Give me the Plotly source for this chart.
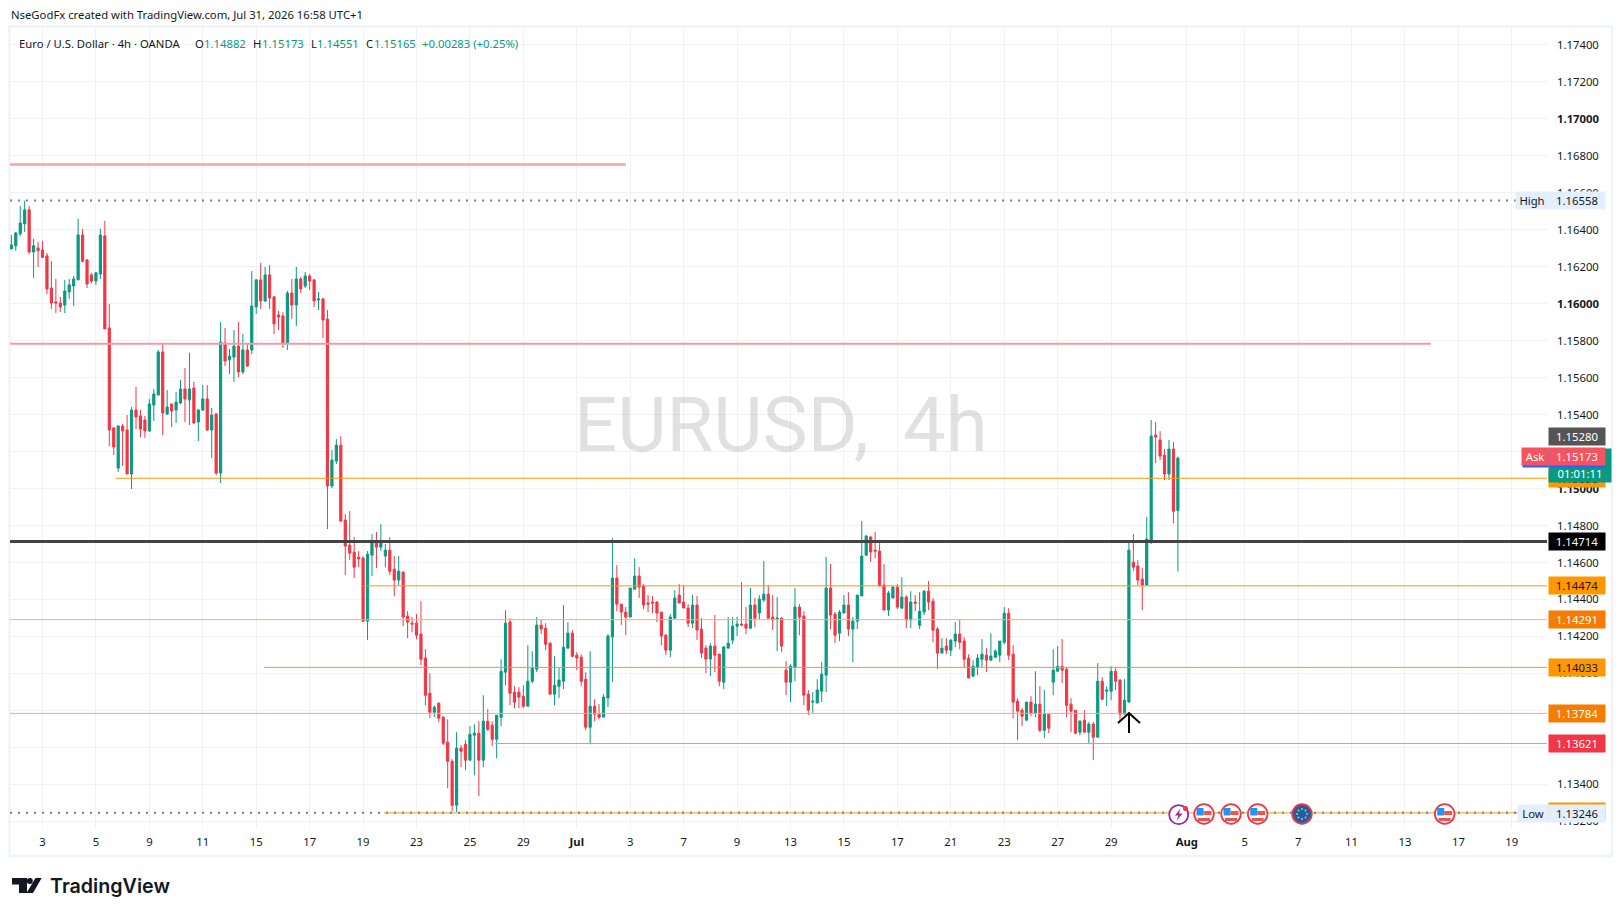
import plotly.graph_objects as go

# 4h candles
opens = [
    1.16296, 1.16313, 1.16378, 1.16432, 1.16508, 1.16280, 1.16302, 1.16291, 1.16259, 1.16085,
    1.16010, 1.16004, 1.15993, 1.16064, 1.16096, 1.16129, 1.16372, 1.16237, 1.16156, 1.16123,
    1.16161, 1.16367, 1.15869, 1.15328, 1.15111, 1.15339, 1.15317, 1.15079, 1.15425, 1.15393,
    1.15371, 1.15312, 1.15452, 1.15506, 1.15739, 1.15404, 1.15458, 1.15425, 1.15463, 1.15539,
    1.15479, 1.15544, 1.15360, 1.15425, 1.15485, 1.15317, 1.15404, 1.15084, 1.15788, 1.15696,
    1.15712, 1.15771, 1.15631, 1.15750, 1.15750, 1.15983, 1.16129, 1.16015, 1.16156, 1.16037,
    1.15939, 1.15934, 1.15788, 1.16058, 1.15993, 1.16134, 1.16096, 1.16150, 1.16129, 1.16020,
    1.16026, 1.15917, 1.15014, 1.15149, 1.15235, 1.14830, 1.14694, 1.14656, 1.14629, 1.14624,
    1.14283, 1.14640, 1.14716, 1.14683, 1.14635, 1.14667, 1.14564, 1.14505, 1.14548, 1.14310,
    1.14272, 1.14272, 1.14213, 1.14083, 1.13893, 1.13790, 1.13839, 1.13763, 1.13628, 1.13525,
    1.13287, 1.13596, 1.13617, 1.13531, 1.13666, 1.13677, 1.13531, 1.13742, 1.13720, 1.13644,
    1.13763, 1.14007, 1.14278, 1.13899, 1.13899, 1.13877, 1.13823, 1.13958, 1.14023, 1.14261,
    1.14245, 1.14164, 1.13888, 1.13931, 1.13958, 1.14137, 1.14218, 1.14099, 1.14088, 1.13969,
    1.13709, 1.13823, 1.13780, 1.13764, 1.13867, 1.14197, 1.14516, 1.14375, 1.14332, 1.14305,
    1.14456, 1.14527, 1.14473, 1.14381, 1.14386, 1.14386, 1.14332, 1.14207, 1.14126, 1.14299,
    1.14424, 1.14386, 1.14354, 1.14272, 1.14370, 1.14240, 1.14137, 1.14078, 1.14148, 1.14105,
    1.13953, 1.14137, 1.14180, 1.14256, 1.14267, 1.14267, 1.14245, 1.14370, 1.14327, 1.14397,
    1.14429, 1.14305, 1.14294, 1.14299, 1.14018, 1.13953, 1.14034, 1.14359, 1.14310, 1.13888,
    1.13845, 1.13840, 1.13904, 1.13991, 1.14462, 1.14321, 1.14218, 1.14327, 1.14370, 1.14240,
    1.14283, 1.14419, 1.14640, 1.14738, 1.14667, 1.14662, 1.14478, 1.14343, 1.14408, 1.14467,
    1.14353, 1.14413, 1.14289, 1.14386, 1.14261, 1.14332, 1.14445, 1.14391, 1.14240, 1.14110,
    1.14148, 1.14126, 1.14175, 1.14213, 1.14175, 1.14083, 1.13985, 1.14034, 1.14077, 1.14099,
    1.14072, 1.14088, 1.14099, 1.14169, 1.14326, 1.14104, 1.13850, 1.13801, 1.13747, 1.13845,
    1.13785, 1.13834, 1.13693, 1.13780, 1.13953, 1.14012, 1.14039, 1.14023, 1.13834, 1.13801,
    1.13682, 1.13747, 1.13682, 1.13726, 1.13655, 1.13958, 1.13904, 1.13904, 1.14012, 1.13964,
    1.13780, 1.13845, 1.14602, 1.14581, 1.14510, 1.14478, 1.14721, 1.15290, 1.15263, 1.15181,
    1.15079, 1.15214, 1.14882,
]
highs = [
    1.16372, 1.16388, 1.16529, 1.16558, 1.16529, 1.16351, 1.16334, 1.16340, 1.16275, 1.16231,
    1.16134, 1.16037, 1.16129, 1.16134, 1.16150, 1.16459, 1.16405, 1.16242, 1.16167, 1.16172,
    1.16405, 1.16448, 1.15999, 1.15333, 1.15339, 1.15349, 1.15398, 1.15441, 1.15550, 1.15425,
    1.15393, 1.15485, 1.15539, 1.15750, 1.15782, 1.15533, 1.15458, 1.15523, 1.15587, 1.15652,
    1.15734, 1.15577, 1.15430, 1.15560, 1.15560, 1.15436, 1.15409, 1.15901, 1.15869, 1.15755,
    1.15858, 1.15901, 1.15836, 1.15788, 1.16177, 1.16134, 1.16221, 1.16199, 1.16210, 1.16042,
    1.15961, 1.15955, 1.16069, 1.16134, 1.16199, 1.16145, 1.16172, 1.16161, 1.16134, 1.16064,
    1.16031, 1.15966, 1.15208, 1.15268, 1.15284, 1.14862, 1.14878, 1.14738, 1.14662, 1.14635,
    1.14662, 1.14754, 1.14765, 1.14808, 1.14700, 1.14738, 1.14635, 1.14635, 1.14553, 1.14337,
    1.14305, 1.14321, 1.14391, 1.14131, 1.14001, 1.13828, 1.13844, 1.13769, 1.13752, 1.13536,
    1.13682, 1.13612, 1.13639, 1.13715, 1.13725, 1.13742, 1.13882, 1.13807, 1.13742, 1.13774,
    1.14077, 1.14342, 1.14299, 1.13931, 1.13926, 1.13936, 1.14153, 1.14120, 1.14305, 1.14294,
    1.14272, 1.14169, 1.14093, 1.14029, 1.14370, 1.14278, 1.14234, 1.14115, 1.14104, 1.14007,
    1.14120, 1.13861, 1.13834, 1.13888, 1.14213, 1.14732, 1.14586, 1.14375, 1.14359, 1.14462,
    1.14624, 1.14575, 1.14483, 1.14424, 1.14419, 1.14391, 1.14332, 1.14213, 1.14321, 1.14451,
    1.14483, 1.14478, 1.14375, 1.14424, 1.14419, 1.14299, 1.14153, 1.14164, 1.14316, 1.14105,
    1.14148, 1.14305, 1.14305, 1.14305, 1.14494, 1.14359, 1.14462, 1.14408, 1.14424, 1.14608,
    1.14478, 1.14424, 1.14413, 1.14305, 1.14067, 1.14051, 1.14462, 1.14375, 1.14337, 1.13910,
    1.13899, 1.13969, 1.14061, 1.14630, 1.14592, 1.14332, 1.14343, 1.14424, 1.14440, 1.14305,
    1.14424, 1.14824, 1.14749, 1.14743, 1.14765, 1.14705, 1.14592, 1.14446, 1.14473, 1.14483,
    1.14521, 1.14424, 1.14445, 1.14424, 1.14440, 1.14451, 1.14500, 1.14407, 1.14251, 1.14191,
    1.14191, 1.14186, 1.14278, 1.14289, 1.14196, 1.14104, 1.14072, 1.14104, 1.14186, 1.14137,
    1.14218, 1.14131, 1.14175, 1.14359, 1.14353, 1.14153, 1.13866, 1.13812, 1.13845, 1.13877,
    1.14012, 1.13931, 1.13910, 1.13780, 1.14131, 1.14148, 1.14186, 1.14034, 1.13866, 1.13801,
    1.13747, 1.13801, 1.13737, 1.13737, 1.14056, 1.13980, 1.13931, 1.14039, 1.14029, 1.13969,
    1.13969, 1.14711, 1.14754, 1.14613, 1.14570, 1.14846, 1.15371, 1.15360, 1.15311, 1.15214,
    1.15263, 1.15252, 1.15173,
]
lows = [
    1.16296, 1.16286, 1.16367, 1.16388, 1.16269, 1.16140, 1.16199, 1.16248, 1.16053, 1.15972,
    1.15950, 1.15955, 1.15950, 1.16026, 1.15988, 1.16129, 1.16224, 1.16085, 1.16112, 1.16102,
    1.16134, 1.15864, 1.15230, 1.15182, 1.15090, 1.15122, 1.15079, 1.14998, 1.15322, 1.15279,
    1.15274, 1.15306, 1.15366, 1.15506, 1.15290, 1.15398, 1.15333, 1.15355, 1.15458, 1.15360,
    1.15344, 1.15349, 1.15257, 1.15420, 1.15312, 1.15165, 1.15073, 1.15030, 1.15663, 1.15620,
    1.15577, 1.15604, 1.15620, 1.15658, 1.15728, 1.15945, 1.15972, 1.16010, 1.15972, 1.15836,
    1.15858, 1.15761, 1.15750, 1.15918, 1.15880, 1.16058, 1.16085, 1.16074, 1.15982, 1.15966,
    1.15815, 1.14781, 1.15003, 1.15133, 1.14824, 1.14532, 1.14613, 1.14516, 1.14575, 1.14278,
    1.14180, 1.14526, 1.14570, 1.14662, 1.14575, 1.14532, 1.14418, 1.14478, 1.14256, 1.14191,
    1.14223, 1.14185, 1.14045, 1.13828, 1.13758, 1.13763, 1.13736, 1.13612, 1.13379, 1.13255,
    1.13246, 1.13493, 1.13476, 1.13531, 1.13449, 1.13336, 1.13493, 1.13688, 1.13606, 1.13541,
    1.13715, 1.13936, 1.13828, 1.13812, 1.13812, 1.13812, 1.13823, 1.13947, 1.14007, 1.14213,
    1.14126, 1.13888, 1.13828, 1.13866, 1.13915, 1.14137, 1.14088, 1.14018, 1.13931, 1.13693,
    1.13617, 1.13742, 1.13752, 1.13764, 1.13818, 1.13953, 1.14337, 1.14262, 1.14207, 1.14305,
    1.14456, 1.14408, 1.14348, 1.14332, 1.14327, 1.14278, 1.14153, 1.14099, 1.14088, 1.14299,
    1.14381, 1.14354, 1.14251, 1.14245, 1.14180, 1.14083, 1.14002, 1.13986, 1.14007, 1.13931,
    1.13915, 1.14137, 1.14159, 1.14202, 1.14256, 1.14213, 1.14240, 1.14251, 1.14294, 1.14386,
    1.14299, 1.14235, 1.14121, 1.14115, 1.13883, 1.13845, 1.13958, 1.14207, 1.13829, 1.13775,
    1.13785, 1.13840, 1.13845, 1.13899, 1.14240, 1.14164, 1.14175, 1.14327, 1.14202, 1.14061,
    1.14240, 1.14419, 1.14635, 1.14603, 1.14624, 1.14473, 1.14343, 1.14310, 1.14408, 1.14348,
    1.14353, 1.14245, 1.14245, 1.14337, 1.14240, 1.14316, 1.14343, 1.14169, 1.14023, 1.14110,
    1.14104, 1.14094, 1.14142, 1.14131, 1.14029, 1.13975, 1.13985, 1.13991, 1.14034, 1.14007,
    1.14072, 1.14083, 1.14061, 1.14159, 1.14072, 1.13758, 1.13639, 1.13715, 1.13747, 1.13769,
    1.13763, 1.13682, 1.13650, 1.13677, 1.13883, 1.14012, 1.13948, 1.13763, 1.13682, 1.13672,
    1.13666, 1.13682, 1.13617, 1.13531, 1.13655, 1.13855, 1.13823, 1.13855, 1.13910, 1.13747,
    1.13780, 1.13845, 1.14554, 1.14478, 1.14343, 1.14478, 1.14700, 1.15138, 1.15154, 1.15046,
    1.15046, 1.14813, 1.14551,
]
closes = [
    1.16318, 1.16383, 1.16437, 1.16508, 1.16280, 1.16313, 1.16286, 1.16251, 1.16080, 1.16004,
    1.16004, 1.15983, 1.16069, 1.16102, 1.16134, 1.16372, 1.16230, 1.16107, 1.16123, 1.16167,
    1.16372, 1.15864, 1.15317, 1.15225, 1.15339, 1.15312, 1.15079, 1.15425, 1.15387, 1.15322,
    1.15312, 1.15458, 1.15512, 1.15739, 1.15409, 1.15441, 1.15420, 1.15468, 1.15539, 1.15485,
    1.15539, 1.15355, 1.15425, 1.15485, 1.15317, 1.15398, 1.15084, 1.15793, 1.15690, 1.15717,
    1.15771, 1.15631, 1.15750, 1.15663, 1.15988, 1.16129, 1.16015, 1.16156, 1.16031, 1.15891,
    1.15928, 1.15788, 1.16058, 1.15993, 1.16134, 1.16080, 1.16150, 1.16123, 1.16015, 1.16026,
    1.15912, 1.15014, 1.15154, 1.15235, 1.14824, 1.14689, 1.14651, 1.14575, 1.14619, 1.14283,
    1.14645, 1.14710, 1.14683, 1.14716, 1.14667, 1.14553, 1.14505, 1.14553, 1.14305, 1.14278,
    1.14267, 1.14207, 1.14077, 1.13882, 1.13790, 1.13817, 1.13758, 1.13623, 1.13525, 1.13287,
    1.13596, 1.13579, 1.13531, 1.13671, 1.13677, 1.13531, 1.13742, 1.13698, 1.13644, 1.13774,
    1.14012, 1.14272, 1.13893, 1.13844, 1.13872, 1.13823, 1.13958, 1.14029, 1.14261, 1.14240,
    1.14158, 1.13888, 1.13936, 1.13964, 1.14142, 1.14218, 1.14093, 1.14083, 1.13958, 1.13709,
    1.13823, 1.13780, 1.13763, 1.13872, 1.14202, 1.14516, 1.14375, 1.14332, 1.14305, 1.14462,
    1.14527, 1.14467, 1.14370, 1.14375, 1.14381, 1.14327, 1.14202, 1.14126, 1.14305, 1.14408,
    1.14381, 1.14354, 1.14272, 1.14370, 1.14235, 1.14110, 1.14078, 1.14148, 1.14099, 1.13958,
    1.14143, 1.14164, 1.14256, 1.14267, 1.14262, 1.14245, 1.14370, 1.14299, 1.14402, 1.14429,
    1.14299, 1.14289, 1.14299, 1.14148, 1.13953, 1.14040, 1.14359, 1.14305, 1.13883, 1.13802,
    1.13850, 1.13910, 1.13996, 1.14462, 1.14316, 1.14207, 1.14332, 1.14370, 1.14240, 1.14283,
    1.14424, 1.14635, 1.14743, 1.14657, 1.14662, 1.14473, 1.14343, 1.14435, 1.14467, 1.14359,
    1.14413, 1.14289, 1.14386, 1.14380, 1.14337, 1.14445, 1.14386, 1.14234, 1.14110, 1.14137,
    1.14126, 1.14180, 1.14213, 1.14169, 1.14077, 1.13975, 1.14039, 1.14083, 1.14104, 1.14072,
    1.14094, 1.14121, 1.14175, 1.14326, 1.14099, 1.13845, 1.13796, 1.13769, 1.13845, 1.13785,
    1.13834, 1.13693, 1.13780, 1.13704, 1.14018, 1.14039, 1.14018, 1.13828, 1.13796, 1.13677,
    1.13742, 1.13682, 1.13726, 1.13655, 1.13958, 1.13861, 1.13910, 1.14012, 1.13958, 1.13780,
    1.13855, 1.14667, 1.14575, 1.14505, 1.14478, 1.14727, 1.15284, 1.15279, 1.15176, 1.15079,
    1.15214, 1.14878, 1.15165,
]

# time axis labels and the bar each one sits on
date_bars = [7, 19, 31, 43, 55, 67, 79, 91, 103, 115, 127, 139, 151, 163, 175, 187, 199, 211,
             223, 235, 247, 264, 277, 289, 301, 313, 325, 337]
date_labels = ["3", "5", "9", "11", "15", "17", "19", "23", "25", "29", "<b>Jul</b>", "3", "7", "9",
               "13", "15", "17", "21", "23", "27", "29", "<b>Aug</b>", "5", "7", "11", "13", "17", "19"]

price_ticks = [1.132, 1.134, 1.136, 1.138, 1.14, 1.142, 1.144, 1.146, 1.148, 1.15, 1.152, 1.154,
               1.156, 1.158, 1.16, 1.162, 1.164, 1.166, 1.168, 1.17, 1.172, 1.174]
price_tick_labels = ["1.13200", "1.13400", "1.13600", "1.13800", "1.14000", "1.14200", "1.14400",
                     "1.14600", "1.14800", "<b>1.15000</b>", "1.15200", "1.15400", "1.15600", "1.15800",
                     "<b>1.16000</b>", "1.16200", "1.16400", "1.16600", "1.16800", "<b>1.17000</b>",
                     "1.17200", "1.17400"]

# drawn levels: price, first bar, last bar
level_prices = [1.16753, 1.15784, 1.15056, 1.14714, 1.14474, 1.14291, 1.14033, 1.13784, 1.13621, 1.13246]
level_first = [-0.3, -0.3, 23.5, -0.3, 79, -0.3, 56.7, -0.3, 108.6, 83.7]
level_last = [138, 318.8, 344.9, 344.9, 344.9, 344.9, 344.9, 344.9, 344.9, 344.9]
level_colors = ["#f7a1ab", "#f59aa4", "#ff9800", "#434343", "#f7951e", "#f5b06f",
                "#f7951e", "#f5ac6c", "#f28b95", "#ffc970"]
level_widths = [2.5, 2, 1, 3, 1, 1, 1, 1, 1, 2]

high_price = 1.16558
low_price = 1.13246

# pixel box of the plot inside the 1623x916 page
L, R, T, B = 10, 1547, 27, 828


def px(x):
    return (x - L) / (R - L)


def py(y):
    return (B - y) / (B - T)


GREEN = "#089981"
RED = "#f23645"
TEXT = "#131722"
FONT = "Noto Sans"

bars = list(range(len(opens)))

fig = go.Figure()
fig.add_trace(go.Candlestick(
    x=bars, open=opens, high=highs, low=lows, close=closes,
    increasing=dict(line=dict(color=GREEN, width=1), fillcolor=GREEN),
    decreasing=dict(line=dict(color=RED, width=1), fillcolor=RED),
    whiskerwidth=0, hoverinfo="skip", showlegend=False,
))

for i in range(len(level_prices)):
    fig.add_trace(go.Scatter(
        x=[level_first[i], level_last[i]], y=[level_prices[i], level_prices[i]], mode="lines",
        line=dict(color=level_colors[i], width=level_widths[i]),
        hoverinfo="skip", showlegend=False,
    ))

# session high / low dots
for p in [high_price, low_price]:
    fig.add_trace(go.Scatter(
        x=[-0.3, 338], y=[p, p], mode="lines",
        line=dict(color="#787b86", width=2, dash="2px,6px"),
        hoverinfo="skip", showlegend=False,
    ))

annotations = []


def text_at(x, y, text, size=11.3, color=TEXT, anchor="left", **kw):
    annotations.append(dict(xref="paper", yref="paper", x=px(x), y=py(y), text=text, showarrow=False,
                            xanchor=anchor, yanchor="middle", borderpad=0,
                            font=dict(family=kw.pop("family", FONT), size=size, color=color,
                                      **kw.pop("font_extra", {})), **kw))


def price_tag(price, text, bg, color="white", x=1548, w=56, h=17, shift=0):
    annotations.append(dict(xref="paper", yref="y", x=px(x), y=price, text=text, showarrow=False,
                            xanchor="left", yanchor="middle", width=w, height=h, align="center",
                            bgcolor=bg, borderpad=0, yshift=shift,
                            font=dict(family=FONT, size=11.3, color=color)))


# watermark
text_at(573, 425, "EURUSD,", size=76, color="rgba(42,46,57,0.14)", family="Roboto")
text_at(902, 425, "4h", size=76, color="rgba(42,46,57,0.14)", family="Roboto")

# header
text_at(10, 15, "NseGodFx created with TradingView.com, Jul 31, 2026 16:58 UTC+1")
text_at(18, 43, "Euro / U.S. Dollar · 4h · OANDA")
text_at(194, 43, "O")
text_at(203, 43, "1.14882", color=GREEN)
text_at(252, 43, "H")
text_at(260.5, 43, "1.15173", color=GREEN)
text_at(309.5, 43, "L")
text_at(316, 43, "1.14551", color=GREEN)
text_at(364.5, 43, "C")
text_at(373, 43, "1.15165", color=GREEN)
text_at(421, 43, "+0.00283 (+0.25%)", color=GREEN)

# price tags
price_tag(1.15056, "1.15056", "#ff9800", TEXT)
annotations.append(dict(xref="paper", yref="y", x=px(1548), y=1.15125, text="01:01:11", showarrow=False,
                        xanchor="left", yanchor="middle", width=60, height=31, align="center", valign="bottom",
                        bgcolor=GREEN, borderpad=1, font=dict(family=FONT, size=11.3, color="white")))
price_tag(1.15280, "1.15280", "#555555")
price_tag(1.15173, "", "#2962ff", shift=-2)
price_tag(1.15173, "", "#2962ff", x=1522, w=25, shift=-2)
price_tag(1.15173, "1.15173", "#f7525f")
price_tag(1.15173, "Ask", "#f7525f", x=1521, w=26)
price_tag(1.14714, "1.14714", "#000000")
price_tag(1.14474, "1.14474", "#ff9800", TEXT)
price_tag(1.14291, "1.14291", "#f57c00")
price_tag(1.14033, "1.14033", "#ff9800", TEXT)
price_tag(1.13784, "1.13784", "#f57c00")
price_tag(1.13621, "1.13621", "#f23645")
price_tag(high_price, "High", "#e3effd", TEXT, x=1515, w=32)
price_tag(high_price, "1.16558", "#e3effd", TEXT)
price_tag(1.13250, "", "#ff9800", TEXT, shift=1)
price_tag(low_price, "Low", "#e3effd", TEXT, x=1517, w=30, shift=-1)
price_tag(low_price, "1.13246", "#e3effd", TEXT, shift=-1)

# logo wordmark
text_at(49, 885.5, "TradingView", size=19.7, color="#131722", family="Inter", font_extra=dict(weight=600))

shapes = []


def rect(x0, y0, x1, y1, fill, line=None, lw=0):
    shapes.append(dict(type="rect", xref="paper", yref="paper", x0=px(x0), x1=px(x1), y0=py(y0), y1=py(y1),
                       fillcolor=fill, line=dict(color=line or fill, width=lw), layer="above"))


def circle(cx, cy, r, fill, line=None, lw=0):
    shapes.append(dict(type="circle", xref="paper", yref="paper", x0=px(cx - r), x1=px(cx + r),
                       y0=py(cy + r), y1=py(cy - r), fillcolor=fill,
                       line=dict(color=line or fill, width=lw), layer="above"))


def poly(points, fill=None, line=None, lw=0, close=True):
    d = "M" + " L".join(f"{px(a):.5f},{py(b):.5f}" for a, b in points) + (" Z" if close else "")
    shapes.append(dict(type="path", xref="paper", yref="paper", path=d, fillcolor=fill or "rgba(0,0,0,0)",
                       line=dict(color=line or "rgba(0,0,0,0)", width=lw), layer="above"))


# outer frame
shapes.append(dict(type="rect", xref="paper", yref="paper", x0=px(9.5), x1=px(1612), y0=py(856), y1=py(26.5),
                   fillcolor="rgba(0,0,0,0)", line=dict(color="#f0f3fa", width=2.5), layer="below"))

# arrow
poly([(1129, 733), (1129, 713)], line="#000000", lw=2, close=False)
poly([(1118, 723), (1129, 713), (1140, 723)], line="#000000", lw=2, close=False)

# logo mark
poly([(12, 878), (27, 878), (27, 893), (19, 893), (19, 884.5), (12, 884.5)], fill="#131722")
circle(29.8, 881, 3, "#131722")
poly([(35.5, 878), (41.7, 878), (33, 893), (26.5, 893)], fill="#131722")

# event markers on the time axis
circle(1178.7, 814.7, 9.5, "white", "#9c27b0", 1.8)
circle(1185.5, 808.5, 2.5, "#f23645")
poly([(1180.5, 808.5), (1175, 815.5), (1178.5, 815.5), (1176.5, 821), (1182.5, 813.5), (1179, 813.5)], fill="#9c27b0")
for cx in [1204, 1231, 1257.7, 1444.7]:
    circle(cx, 814, 9.8, "white", "#f23645", 1.8)
    rect(cx - 7.5, 808, cx - 0.5, 815.5, "#2196f3")
    rect(cx - 0.5, 811, cx + 7.5, 815, "#ef5350")
    rect(cx - 6, 818, cx + 6, 821, "#ef5350")
circle(1302, 814, 9.8, "#1c5fad", "#f23645", 1.8)
for dx, dy in [(0, -5), (3.5, -3.5), (5, 0), (3.5, 3.5), (0, 5), (-3.5, 3.5), (-5, 0), (-3.5, -3.5)]:
    circle(1302 + dx, 814 + dy, 0.9, "#e8c72e")

fig.update_layout(
    width=1623, height=916,
    margin=dict(l=L, r=1623 - R, t=T, b=916 - B, pad=0),
    paper_bgcolor="white", plot_bgcolor="white",
    font=dict(family=FONT, size=12, color=TEXT),
    boxgap=0.3, showlegend=False,
    annotations=annotations, shapes=shapes,
    xaxis=dict(
        range=[-0.3, 344.9], tickmode="array", tickvals=date_bars, ticktext=date_labels,
        showgrid=True, gridcolor="#f1f2f5", gridwidth=1, zeroline=False, showline=False,
        ticks="", tickfont=dict(family=FONT, size=11.3, color=TEXT), rangeslider=dict(visible=False),
        ticklabelstandoff=6, tickangle=0, fixedrange=True,
    ),
    yaxis=dict(
        range=[1.13164, 1.17497], side="right", tickmode="array", tickvals=price_ticks,
        ticktext=price_tick_labels, showgrid=True, gridcolor="#f1f2f5", gridwidth=1, zeroline=False,
        showline=False, ticks="", tickfont=dict(family=FONT, size=11.3, color=TEXT),
        ticklabelstandoff=9, fixedrange=True,
    ),
)

fig.write_html("out.html", config=dict(displayModeBar=False), post_script="document.body.style.margin='0';")
